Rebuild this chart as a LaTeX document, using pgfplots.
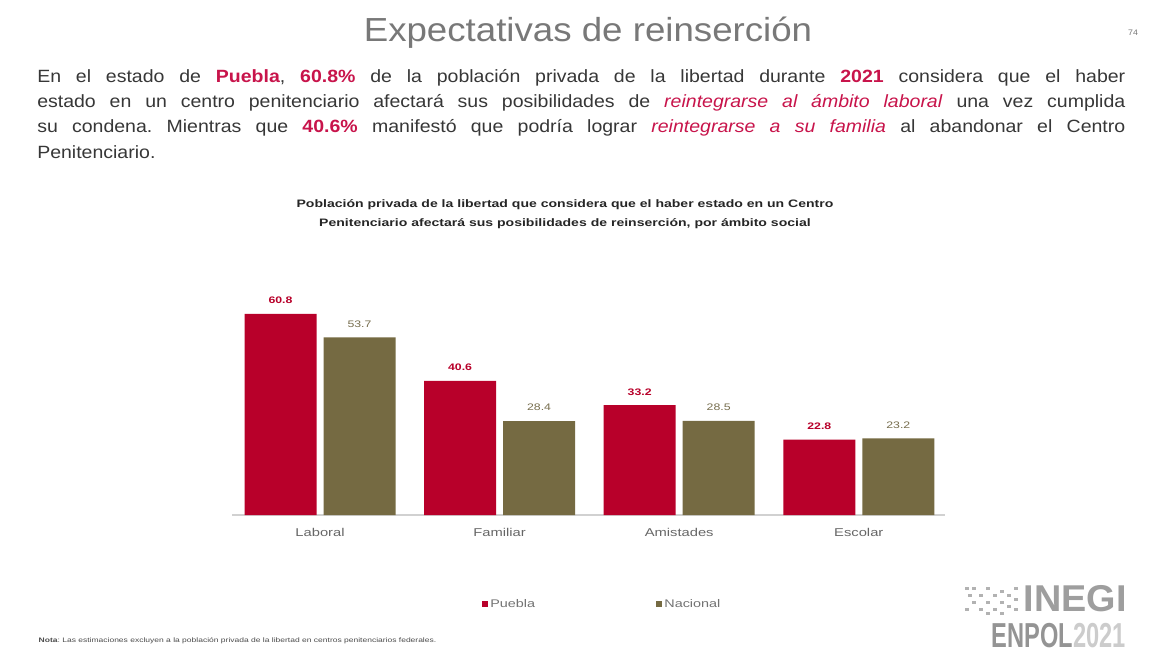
\documentclass[border=0pt]{standalone}
\usepackage{pgfplots}
\pgfplotsset{compat=1.18}
\usepackage{fontspec}
\setmainfont{Liberation Sans}[FakeStretch=1.1]
\newfontfamily\ancho{Liberation Sans}[FakeStretch=1.3]
\definecolor{puebla}{RGB}{184,0,42}
\definecolor{nacional}{RGB}{117,106,66}
\definecolor{resalta}{RGB}{200,20,75}
\definecolor{cuerpo}{RGB}{55,55,55}
\definecolor{titulo}{RGB}{120,120,120}
\frenchspacing
\begin{document}
\begin{tikzpicture}[x=0.75pt,y=0.75pt]
% page in pixel units, y counted from the bottom
\fill[white] (0,0) rectangle (1161,654);
\path[use as bounding box] (0,0) rectangle (1161,654);
\coordinate (origen) at (232,139);

\node[text=titulo] at (588,621) {\fontsize{25}{25}\selectfont Expectativas de reinserción};
\node[text=titulo] at (1133,621) {\fontsize{6}{6}\selectfont 74};

\node[anchor=north west, inner sep=0pt, text width=816pt, align=justify, text=cuerpo,
  font=\fontsize{13.3}{19}\selectfont] at (37,585) {%
  En el estado de \textcolor{resalta}{\textbf{Puebla}}, \textcolor{resalta}{\textbf{60.8\%}} de la población privada de la libertad durante \textcolor{resalta}{\textbf{2021}} considera que el haber\linebreak
  estado en un centro penitenciario afectará sus posibilidades de \textcolor{resalta}{\textit{reintegrarse al ámbito laboral}} una vez cumplida\linebreak
  su condena. Mientras que \textcolor{resalta}{\textbf{40.6\%}} manifestó que podría lograr \textcolor{resalta}{\textit{reintegrarse a su familia}} al abandonar el Centro\linebreak
  Penitenciario.};

\node[align=center, text=black!85, font=\ancho\bfseries\fontsize{8.1}{14.3}\selectfont] at (565,440)
  {Población privada de la libertad que considera que el haber estado en un Centro\\
  Penitenciario afectará sus posibilidades de reinserción, por ámbito social};

\begin{axis}[
  at={(origen)}, anchor=south west,
  scale only axis, width=534.75pt, height=173.6pt,
  ybar=5.25pt, bar width=54pt,
  xmin=-0.49, xmax=3.48, ymin=0, ymax=70,
  axis y line=none, axis x line*=bottom,
  x axis line style={draw=black!18, line width=0.8pt, -},
  xtick={0,1,2,3}, xticklabels={Laboral,Familiar,Amistades,Escolar},
  xtick style={draw=none},
  xticklabel style={font=\ancho\fontsize{8.5}{10}\selectfont, text=black!60, yshift=-2pt},
  /pgf/number format/assume math mode=true,
  nodes near coords={\pgfmathprintnumber[fixed,fixed zerofill,precision=1]{\pgfplotspointmeta}},
  legend columns=2,
  legend style={at={(0.345,-0.385)}, anchor=west, draw=none, fill=none,
    font=\ancho\fontsize{8.3}{10}\selectfont, text=black!55,
    /tikz/every even column/.append style={column sep=89pt}},
  legend image code/.code={\fill[#1] (0pt,-2pt) rectangle (4pt,2pt);},
]
\addplot[fill=puebla, draw=none,
  nodes near coords style={text=puebla, font=\ancho\bfseries\fontsize{7.1}{9}\selectfont, yshift=4pt}]
  coordinates {(0,60.8) (1,40.6) (2,33.2) (3,22.8)};
\addplot[fill=nacional, draw=none,
  nodes near coords style={text=nacional!80!gray, font=\ancho\fontsize{7.1}{9}\selectfont, yshift=4pt}]
  coordinates {(0,53.7) (1,28.4) (2,28.5) (3,23.2)};
\legend{Puebla,Nacional}
\end{axis}

\node[anchor=west, text=black!70] at (34,13)
  {\ancho\fontsize{4.9}{6}\selectfont\textbf{Nota}: Las estimaciones excluyen a la población privada de la libertad en centros penitenciarios federales.};

% logo
\node[anchor=east, text=black!38, inner sep=0pt] at (1127,55.5)
  {\scalebox{0.92}[1]{\fontsize{28}{28}\selectfont\bfseries INEGI}};
\node[anchor=east, inner sep=0pt] at (1126,18)
  {\scalebox{0.62}[1]{\fontsize{26}{26}\selectfont\bfseries\textcolor{black!42}{ENPOL}\textcolor{black!20}{2021}}};
\foreach \cx/\cy in {965/64,972/64,986/64,1000/61,1014/64,968/57,979/57,993/57,1007/57,1014/53,
  972/50,986/50,1000/50,1007/46,965/43,979/43,993/43,1014/43,986/39,1000/39}
  \fill[black!30] (\cx,\cy) rectangle ++(4,3);
\end{tikzpicture}
\end{document}
